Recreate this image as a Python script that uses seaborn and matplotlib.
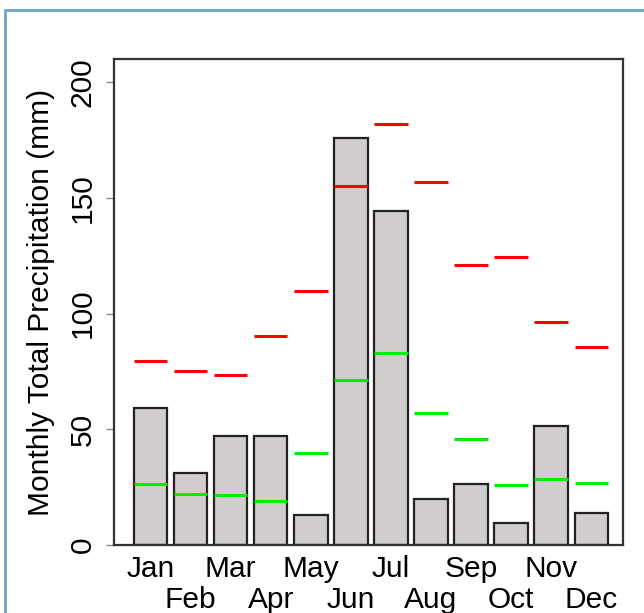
import matplotlib
matplotlib.use("Agg")
import matplotlib.pyplot as plt
import numpy as np
import pandas as pd
import seaborn as sns
from matplotlib.lines import Line2D

# Monthly precipitation values
months = ["Jan", "Feb", "Mar", "Apr", "May", "Jun",
          "Jul", "Aug", "Sep", "Oct", "Nov", "Dec"]
total_mm = [59.0, 31.0, 47.2, 47.2, 13.1, 175.8,
            144.4, 19.7, 26.2, 9.6, 51.3, 13.7]
low_mm = [26.2, 22.2, 21.6, 19.0, 39.8, 71.2,
          82.8, 56.9, 45.7, 25.9, 28.5, 26.7]
high_mm = [79.5, 75.3, 73.5, 90.3, 109.8, 155.1,
           182.1, 156.7, 121.1, 124.3, 96.4, 85.6]
y_ticks = [0, 50, 100, 150, 200]

sns.set_style("white")
plt.rcParams["font.family"] = ["Liberation Sans", "DejaVu Sans"]
plt.rcParams["text.color"] = "black"
plt.rcParams["xtick.labelcolor"] = "black"
plt.rcParams["ytick.labelcolor"] = "black"

W, H = 644, 613
fig = plt.figure(figsize=(W / 100, H / 100), dpi=100)
ax = fig.add_axes([114.5 / W, (H - 545) / H, (622.5 - 114.5) / W, (545 - 59) / H])

df = pd.DataFrame({"month": months, "total": total_mm})
bar_w = 1 / 1.2
sns.barplot(data=df, x="month", y="total", ax=ax, color="#d1cdcd",
            saturation=1, edgecolor="#222222", linewidth=1.6, width=bar_w)

x = np.arange(len(months))
ax.hlines(high_mm, x - bar_w / 2, x + bar_w / 2, colors="#ff0000", lw=2.2, zorder=5)
ax.hlines(low_mm, x - bar_w / 2, x + bar_w / 2, colors="#00ee00", lw=2.2, zorder=5)

ax.set_xlim(-0.9, 11.78)
ax.set_ylim(0, 210)

# alternating two-row month labels: odd months on major ticks, even on minor
ax.set_xticks(x[0::2])
ax.set_xticklabels(months[0::2], fontsize=21.5)
ax.set_xticks(x[1::2], minor=True)
ax.set_xticklabels(months[1::2], minor=True, fontsize=21.5)
ax.tick_params(axis="x", which="major", length=0, pad=7)
ax.tick_params(axis="x", which="minor", length=0, pad=29.5)

ax.set_yticks(y_ticks)
ax.set_yticklabels([str(v) for v in y_ticks], rotation=90, va="center", fontsize=21.5)
ax.tick_params(axis="y", length=6, width=1, color="#888888", pad=7, left=True)

ax.set_xlabel("")
ax.set_ylabel("")
fig.text(41 / W, 1 - 302 / H, "Monthly Total Precipitation (mm)",
         rotation=90, ha="center", va="center", fontsize=21.5)

for s in ax.spines.values():
    s.set_color("#333333")
    s.set_linewidth(1.6)

# light blue frame around the panel
fig.add_artist(Line2D([5 / W, 5 / W], [0, 1 - 10 / H], transform=fig.transFigure,
                      color="#78a9c9", lw=2.2))
fig.add_artist(Line2D([5 / W, 1], [1 - 10 / H, 1 - 10 / H], transform=fig.transFigure,
                      color="#78a9c9", lw=2.2))

fig.savefig("out.png", dpi=100)
